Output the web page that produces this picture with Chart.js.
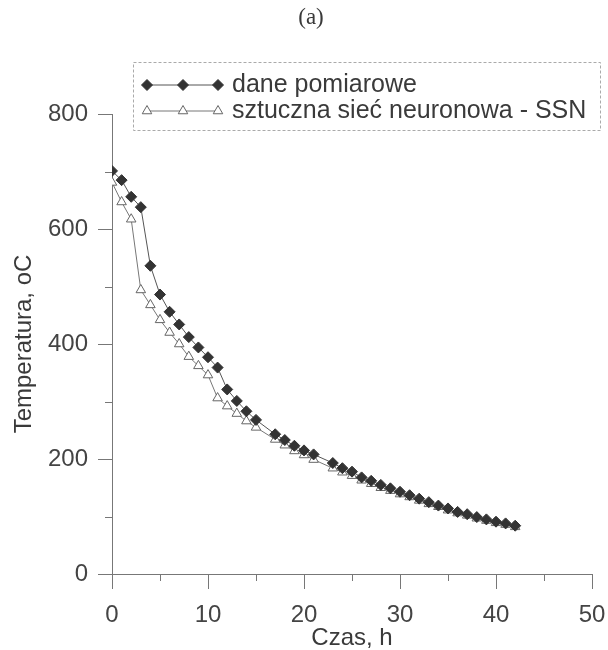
<!DOCTYPE html>
<html>
<head>
<meta charset="utf-8">
<script src="https://cdn.jsdelivr.net/npm/chart.js@4/dist/chart.umd.min.js"></script>
<style>
  html, body { margin: 0; padding: 0; background: #fff; }
  #wrap { width: 608px; height: 650px; position: relative; }
</style>
</head>
<body>
<div id="wrap"><canvas id="chart"></canvas></div>
<script>
// data
const hours = [0, 1, 2, 3, 4, 5, 6, 7, 8, 9, 10, 11, 12, 13, 14, 15, 17, 18, 19, 20, 21,
  23, 24, 25, 26, 27, 28, 29, 30, 31, 32, 33, 34, 35, 36, 37, 38, 39, 40, 41, 42];
const measured = [701, 685, 656, 638, 536, 486, 456, 434, 412, 394, 377, 359, 321, 301, 283, 268, 243, 233, 223, 215, 208,
  193, 184, 178, 168, 162, 155, 149, 143, 137, 131, 125, 119, 114, 108, 104, 99, 95, 91, 88, 84];
const ssn = [681, 647, 617, 494, 468, 442, 420, 400, 378, 362, 346, 306, 292, 279, 266, 255, 234, 224, 214, 207, 199,
  184, 177, 171, 163, 157, 150, 145, 139, 134, 128, 122, 117, 111, 106, 102, 97, 93, 89, 86, 82];
const seriesNames = ['dane pomiarowe', 'sztuczna sieć neuronowa - SSN'];
const xTicks = [0, 10, 20, 30, 40, 50];
const yTicks = [0, 200, 400, 600, 800];

const INK = '#3a3a3a';
const AXIS = '#777';
const SANS = "'Liberation Sans', Arial, sans-serif";

const toPoints = vals => vals.map((v, i) => ({ x: hours[i], y: v }));

// ── minor ticks + "(a)" + the framed legend ──
const extras = {
  id: 'extras',
  afterDraw(chart) {
    const ctx = chart.ctx;
    const xs = chart.scales.x, ys = chart.scales.y;
    const area = chart.chartArea;
    ctx.save();
    ctx.strokeStyle = AXIS;
    ctx.lineWidth = 1;
    for (let v = 5; v < 50; v += 10) {
      const px = Math.round(xs.getPixelForValue(v)) + 0.5;
      ctx.beginPath(); ctx.moveTo(px, area.bottom); ctx.lineTo(px, area.bottom + 7); ctx.stroke();
    }
    for (let v = 100; v < 800; v += 200) {
      const py = Math.round(ys.getPixelForValue(v)) + 0.5;
      ctx.beginPath(); ctx.moveTo(area.left, py); ctx.lineTo(area.left - 7, py); ctx.stroke();
    }

    ctx.fillStyle = INK;
    ctx.font = "23px 'Liberation Serif', 'Times New Roman', serif";
    ctx.textAlign = 'center';
    ctx.textBaseline = 'middle';
    ctx.fillText('(a)', 311, 18);

    // legend box
    ctx.setLineDash([3, 2]);
    ctx.strokeStyle = '#aaa';
    ctx.strokeRect(133.5, 62.5, 467, 68);
    ctx.setLineDash([]);
    const rows = [85, 111];
    chart.data.datasets.forEach((ds, i) => {
      const y = rows[i];
      ctx.strokeStyle = ds.borderColor;
      ctx.lineWidth = 1;
      ctx.beginPath(); ctx.moveTo(147, y); ctx.lineTo(218, y); ctx.stroke();
      [147, 183, 218].forEach(x => {
        ctx.fillStyle = ds.pointBackgroundColor;
        ctx.strokeStyle = ds.pointBorderColor;
        Chart.helpers.drawPoint(ctx, {
          pointStyle: ds.pointStyle, radius: ds.pointRadius, rotation: 0, borderWidth: 1
        }, x, y);
      });
      ctx.fillStyle = INK;
      ctx.font = '25px ' + SANS;
      ctx.textAlign = 'left';
      ctx.fillText(ds.label, 232, y);
    });
    ctx.restore();
  }
};

new Chart(document.getElementById('chart'), {
  type: 'line',
  data: {
    datasets: [
      {
        label: seriesNames[0],
        data: toPoints(measured),
        borderColor: '#555', borderWidth: 1,
        pointStyle: 'rectRot', pointRadius: 5.5,
        pointBackgroundColor: '#333', pointBorderColor: '#333', pointBorderWidth: 1,
      },
      {
        label: seriesNames[1],
        data: toPoints(ssn),
        borderColor: '#777', borderWidth: 1,
        pointStyle: 'triangle', pointRadius: 5.5,
        pointBackgroundColor: '#fff', pointBorderColor: '#666', pointBorderWidth: 1,
      }
    ]
  },
  options: {
    responsive: true, maintainAspectRatio: false, animation: false,
    layout: { padding: { top: 114, right: 16, left: 0, bottom: 0 } },
    plugins: { legend: { display: false }, title: { display: false }, tooltip: { enabled: false } },
    scales: {
      x: {
        type: 'linear', min: 0, max: 50,
        afterFit: s => { s.height = 76; s.paddingLeft = 0; s.paddingRight = 0; },
        afterBuildTicks: s => { s.ticks = xTicks.map(v => ({ value: v })); },
        border: { display: true, color: AXIS, width: 1 },
        grid: { drawOnChartArea: false, tickLength: 15, tickColor: AXIS },
        ticks: { color: '#444', padding: 12, maxRotation: 0, font: { family: SANS, size: 24 } },
        title: { display: true, text: 'Czas, h', color: INK, padding: { top: 0, bottom: 0 },
                 font: { family: SANS, size: 24, lineHeight: 1 } }
      },
      y: {
        min: 0, max: 800,
        afterFit: s => { s.width = 112; s.paddingTop = 0; s.paddingBottom = 0; },
        afterBuildTicks: s => { s.ticks = yTicks.map(v => ({ value: v })); },
        border: { display: true, color: AXIS, width: 1 },
        grid: { drawOnChartArea: false, tickLength: 14, tickColor: AXIS },
        ticks: { color: '#444', padding: 10, font: { family: SANS, size: 24 } },
        title: { display: true, text: 'Temperatura, oC', color: INK, padding: { top: 12, bottom: 0 },
                 font: { family: SANS, size: 24, lineHeight: 1 } }
      }
    }
  },
  plugins: [extras]
});
</script>
</body>
</html>
